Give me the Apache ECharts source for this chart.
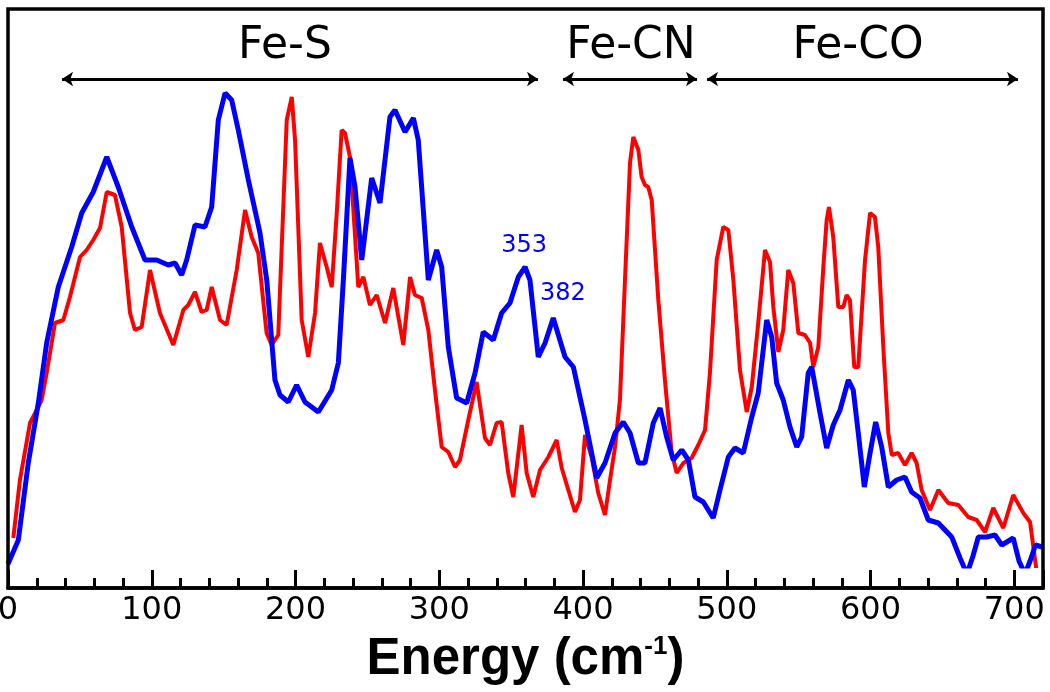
<!DOCTYPE html>
<html>
<head>
<meta charset="utf-8">
<script src="https://cdn.jsdelivr.net/npm/echarts@6/dist/echarts.min.js"></script>
<style>
  html, body { margin: 0; padding: 0; background: #fff; }
  #chart { width: 1050px; height: 692px; }
</style>
</head>
<body>
<div id="chart"></div>
<script>
// Energy (cm-1) vs intensity (arbitrary units)
const blueSpectrum = [[0,2],[7.2,26],[14.1,103],[21.1,163],[26.9,223],[35.0,279],[44.3,319],[51.3,353],[59.3,374],[68.7,409],[76.7,379],[86.1,339],[95.3,306],[103.4,306],[111.5,301],[116.2,303],[120.8,291],[124.3,306],[130.1,341],[137.0,339],[141.7,359],[146.3,446],[151.0,473],[155.6,466],[160.2,436],[167.2,386],[175.3,333],[180.0,286],[185.7,186],[189.2,171],[195.0,164],[200.8,181],[206.6,164],[215.9,154],[225.2,176],[229.8,203],[233.3,286],[237.9,408],[241.4,379],[246.1,306],[253.0,388],[258.8,363],[265.7,449],[269.2,456],[276.2,434],[282.0,448],[285.4,426],[292.4,286],[298.2,316],[301.7,299],[306.3,219],[312.1,168],[319.1,163],[324.9,193],[330.6,234],[337.6,226],[343.4,253],[349.2,263],[355.0,289],[359.7,299],[363.1,286],[368.9,209],[373.6,223],[379.3,248],[387.5,209],[393.3,199],[401.4,146],[409.5,88],[415.3,103],[422.3,133],[428.0,144],[432.7,133],[438.5,103],[443.1,103],[448.9,143],[453.6,158],[458.2,129],[462.8,106],[468.7,116],[473.3,106],[477.9,69],[483.7,64],[490.6,48],[495.3,76],[501.1,109],[505.7,118],[511.5,113],[517.4,149],[521.9,173],[527.8,246],[531.3,229],[534.7,183],[539.3,166],[544.0,139],[548.7,119],[552.1,129],[556.7,193],[559.1,199],[564.9,153],[569.5,118],[574.1,141],[578.8,156],[584.6,186],[588.0,176],[591.5,133],[595.7,79],[599.7,113],[603.6,144],[607.8,119],[612.4,79],[618.2,86],[624.0,89],[628.6,74],[634.4,68],[640.2,46],[647.2,43],[656.5,29],[662.3,8],[667.1,-8],[671.3,10],[675.0,29],[680.8,29],[686.6,31],[691.3,21],[694.8,24],[699.3,28],[703.3,5],[707.5,-8],[711.0,5],[714.8,21],[719.4,19]];

const redSpectrum = [[3.7,28],[8.3,86],[15.3,143],[20.0,156],[23.4,166],[26.9,193],[32.7,243],[38.5,246],[43.1,269],[50.1,309],[54.7,316],[59.3,326],[64.0,338],[68.7,374],[74.4,371],[79.1,339],[84.9,253],[88.3,236],[93.0,239],[98.8,296],[105.7,253],[115.0,221],[122.0,256],[125.4,261],[130.1,274],[134.7,254],[138.2,256],[141.7,279],[147.5,246],[152.1,241],[159.1,296],[164.9,356],[169.5,329],[174.1,313],[179.9,233],[183.4,221],[188.0,231],[193.9,446],[197.4,469],[199.7,426],[204.3,246],[208.9,209],[213.6,253],[217.0,323],[221.7,299],[225.2,279],[228.7,353],[232.1,436],[234.4,433],[237.9,409],[243.7,279],[247.2,289],[251.8,261],[256.5,271],[262.3,243],[268.0,278],[275.0,221],[279.7,289],[283.1,271],[287.8,268],[292.4,236],[297.0,176],[301.7,119],[306.3,114],[311.0,99],[314.4,106],[320.2,146],[326.0,184],[331.8,128],[335.3,121],[339.9,143],[343.4,144],[348.0,93],[351.5,69],[357.3,141],[360.8,93],[365.4,69],[370.1,96],[375.9,109],[381.7,126],[385.2,98],[389.8,76],[394.4,54],[397.9,66],[401.4,131],[406.0,109],[410.6,73],[415.3,51],[418.8,86],[422.3,119],[425.7,166],[429.2,286],[432.7,403],[435.0,429],[438.5,416],[440.8,389],[443.1,381],[445.4,379],[447.8,366],[452.4,266],[457.0,186],[461.7,113],[465.2,93],[469.8,103],[475.6,108],[480.2,121],[484.9,136],[488.3,193],[493.0,306],[497.6,339],[501.1,336],[504.6,286],[509.2,196],[513.9,154],[517.4,179],[521.9,243],[526.6,316],[530.1,304],[532.4,259],[535.9,214],[539.3,236],[542.8,296],[546.3,283],[549.8,233],[554.4,231],[558.0,223],[560.2,199],[563.7,219],[567.2,299],[569.5,346],[571.1,359],[574.1,329],[577.6,259],[581.1,259],[583.4,271],[585.7,266],[588.7,199],[591.5,199],[596.2,306],[599.7,353],[603.1,349],[605.4,319],[608.9,219],[612.4,133],[614.8,111],[619.3,113],[624.0,101],[628.6,113],[632.1,103],[635.6,76],[641.4,56],[647.2,76],[654.1,63],[661.1,61],[668.0,49],[673.9,46],[679.7,34],[685.4,58],[692.4,38],[699.3,71],[706.3,53],[711.0,44],[714.5,6],[716.0,-10]];

// Region annotations (energy ranges)
const regionNames  = ['Fe-S', 'Fe-CN', 'Fe-CO'];
const regionStart  = [37.6, 386.1, 486.3];
const regionEnd    = [368.7, 479.3, 702.6];
const regionLabelX = [192.7, 433.4, 591.3];
const arrowLevel = 487;
const regionLabelLevel = 519;

// Peak labels on the blue trace
const peakNames = ['353', '382'];
const peakLabelX = [359, 386];
const peakLabelY = [320, 272];

const xTicks = { min: 0, max: 720, interval: 100 };

const chart = echarts.init(document.getElementById('chart'), null, { renderer: 'canvas' });

const option = {
  animation: false,
  backgroundColor: '#fff',
  grid: { left: 8, right: 7, top: 9, bottom: 126, containLabel: false, outerBoundsMode: 'none' },
  xAxis: {
    type: 'value',
    min: xTicks.min, max: xTicks.max, interval: xTicks.interval,
    offset: 22,
    axisLine: { show: true, onZero: false, lineStyle: { color: '#000', width: 3.5 } },
    axisTick: { show: true, inside: true, length: 18, lineStyle: { color: '#000', width: 3 } },
    minorTick: { show: true, splitNumber: 5, length: 10, lineStyle: { color: '#000', width: 3 } },
    axisLabel: { color: '#000', fontFamily: 'DejaVu Sans', fontSize: 32, margin: 7, showMaxLabel: false },
    splitLine: { show: false },
    name: '{t|Energy (cm}{s|-1}{t|)}',
    nameLocation: 'middle',
    nameGap: 46,
    nameTextStyle: {
      rich: {
        t: { fontFamily: 'Liberation Sans', fontWeight: 'bold', fontSize: 51, color: '#000' },
        s: { fontFamily: 'Liberation Sans', fontWeight: 'bold', fontSize: 26, color: '#000', verticalAlign: 'top' }
      }
    }
  },
  yAxis: { type: 'value', min: 0, max: 557, show: false, splitLine: { show: false } },
  graphic: [{
    type: 'rect', z: 100, silent: true,
    shape: { x: 8, y: 9, width: 1035, height: 579 },
    style: { fill: 'none', stroke: '#000', lineWidth: 3.5 }
  }],
  series: [
    {
      name: 'red', type: 'line', data: redSpectrum, showSymbol: false, symbol: 'none',
      lineStyle: { color: '#ff0000', width: 4 }, itemStyle: { color: '#ff0000' }, clip: true
    },
    {
      name: 'blue', type: 'line', data: blueSpectrum, showSymbol: false, symbol: 'none',
      lineStyle: { color: '#0000ff', width: 5 }, itemStyle: { color: '#0000ff' }, clip: true,
      markPoint: {
        silent: true, symbol: 'circle', symbolSize: 0,
        label: { show: true, position: 'inside', formatter: '{b}', color: '#0000ff', fontFamily: 'DejaVu Sans', fontSize: 24 },
        data: peakNames.map((n, i) => ({ name: n, coord: [peakLabelX[i], peakLabelY[i]] }))
      }
    },
    {
      name: 'regions', type: 'scatter', data: [], silent: true,
      markLine: {
        silent: true, symbol: ['arrow', 'arrow'], symbolSize: 11,
        lineStyle: { color: '#000', width: 3, type: 'solid' },
        label: { show: false },
        emphasis: { disabled: true },
        data: regionNames.map((n, i) => [{ coord: [regionStart[i], arrowLevel] }, { coord: [regionEnd[i], arrowLevel] }])
      },
      markPoint: {
        silent: true, symbol: 'circle', symbolSize: 0,
        label: { show: true, position: 'inside', formatter: '{b}', color: '#000', fontFamily: 'DejaVu Sans', fontSize: 44 },
        data: regionNames.map((n, i) => ({ name: n, coord: [regionLabelX[i], regionLabelLevel] }))
      }
    }
  ]
};
chart.setOption(option);
</script>
</body>
</html>
